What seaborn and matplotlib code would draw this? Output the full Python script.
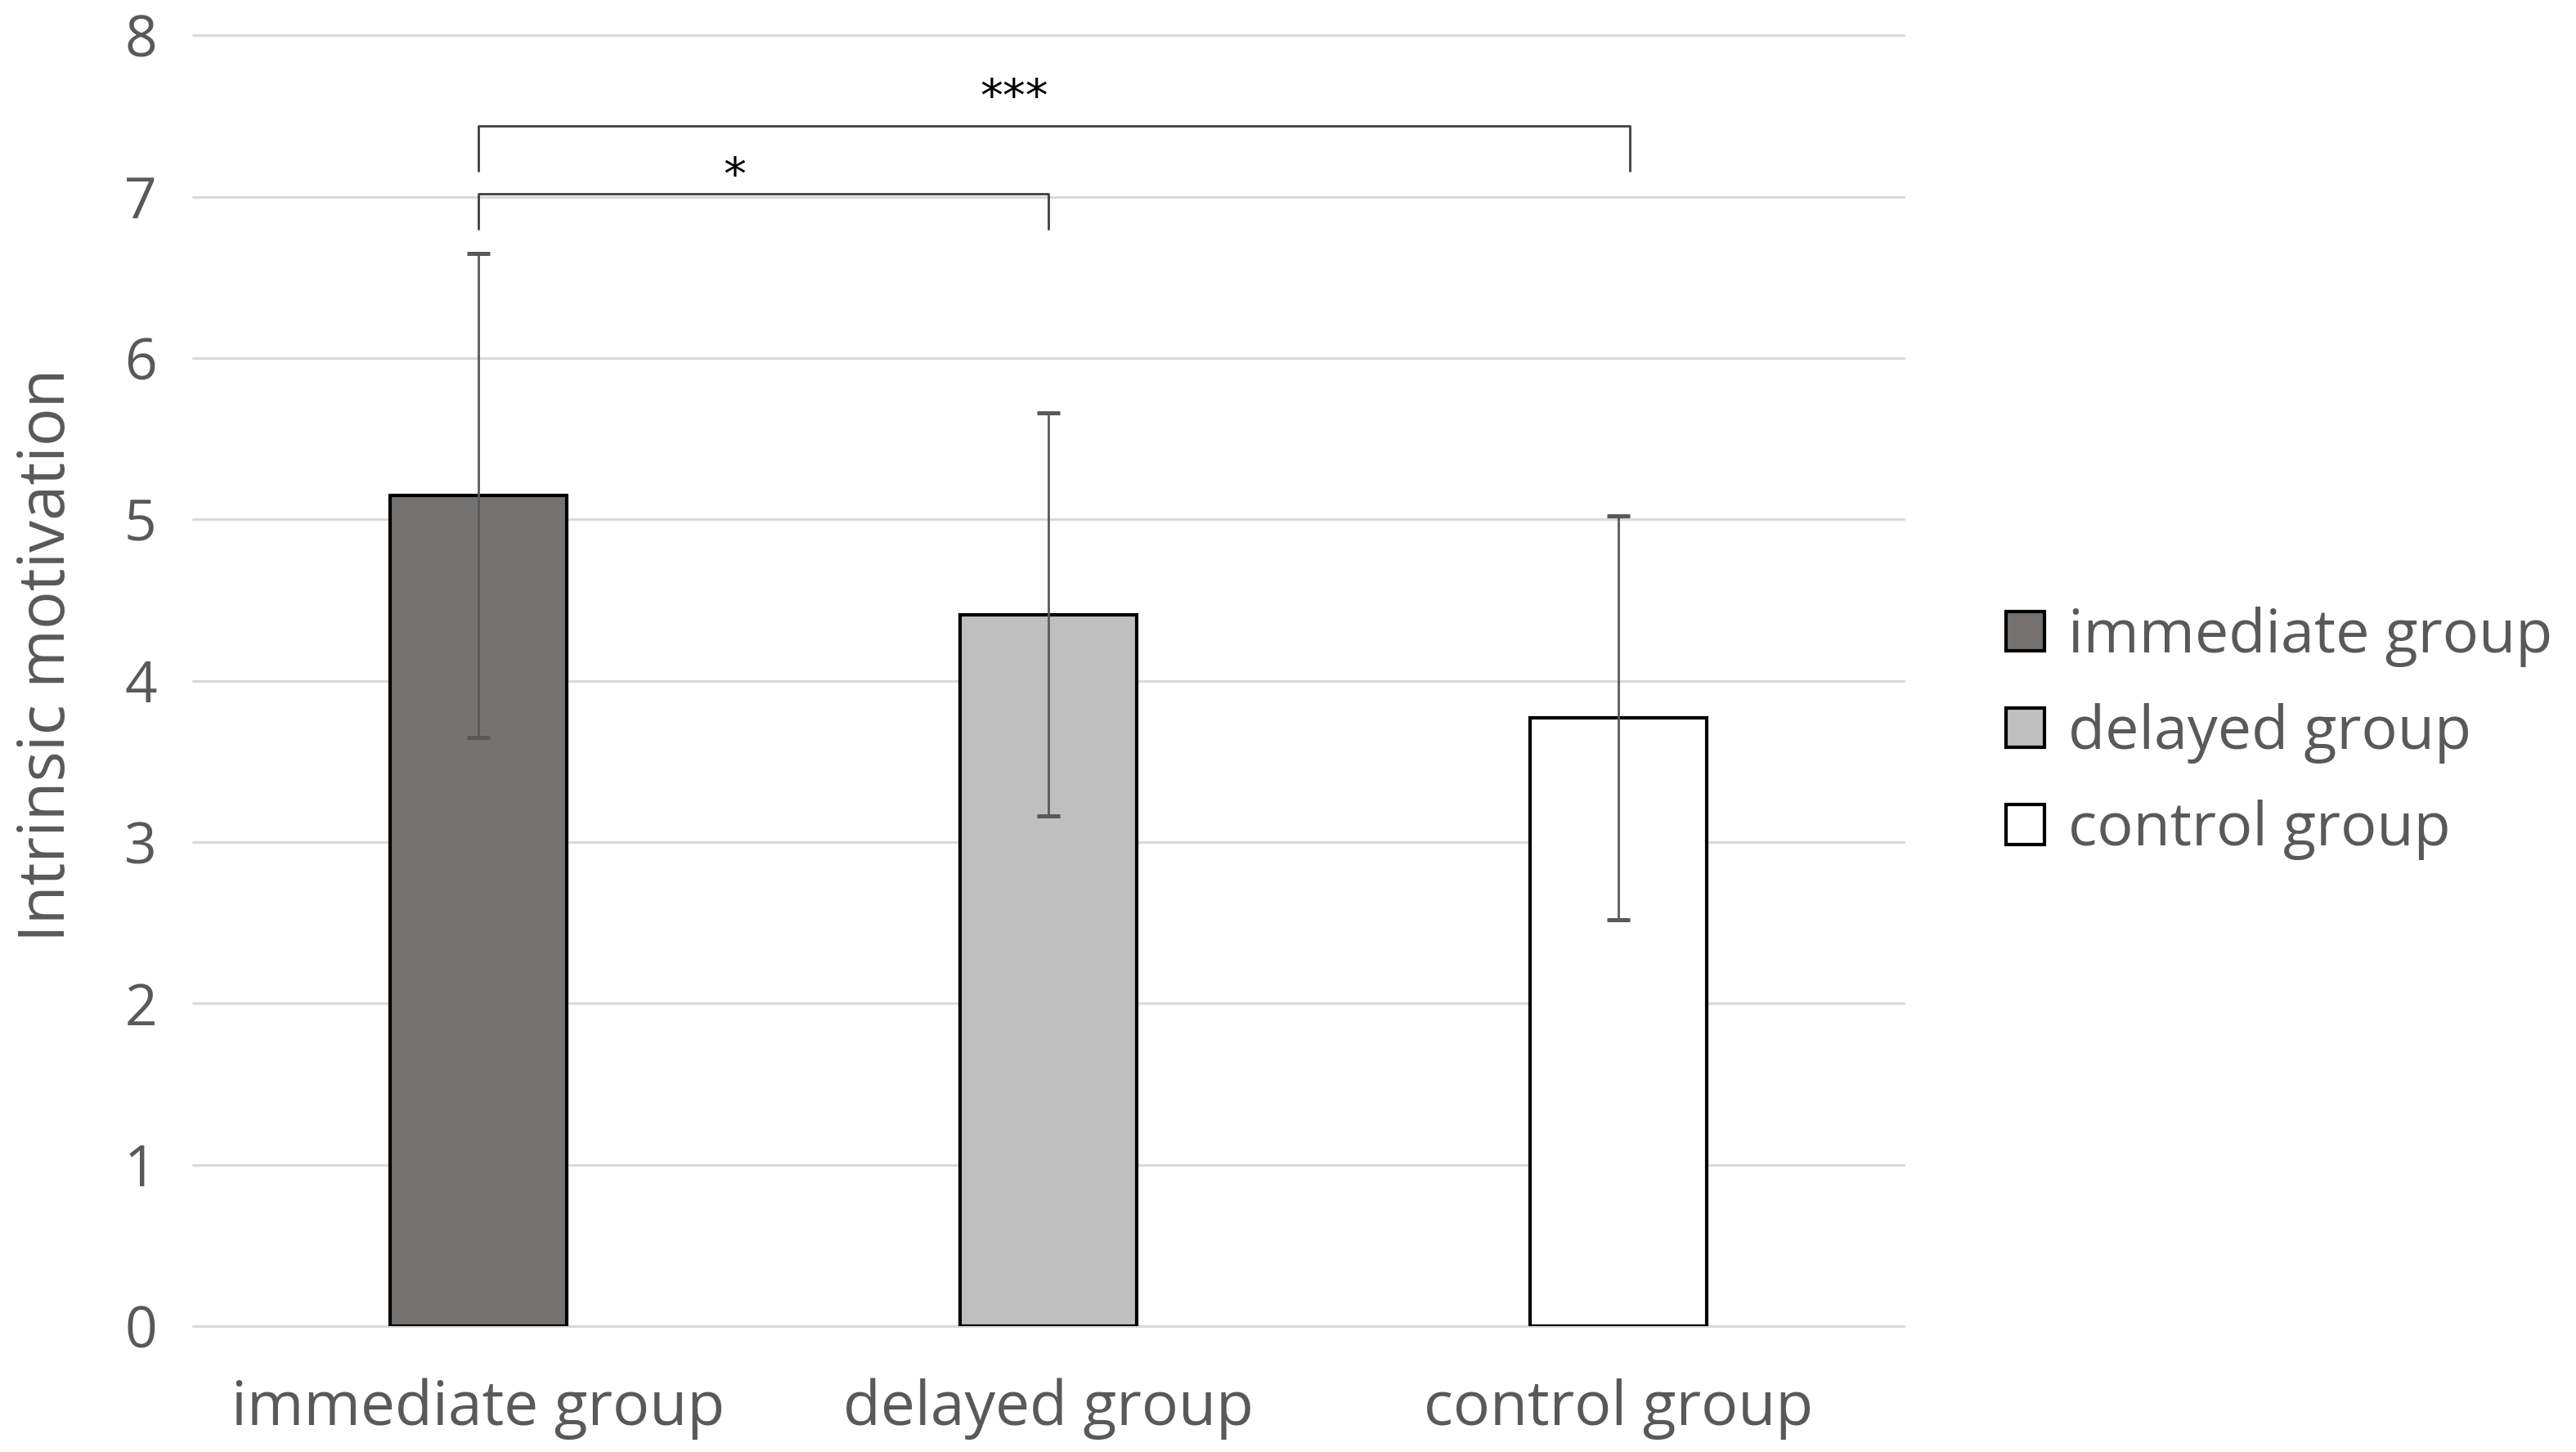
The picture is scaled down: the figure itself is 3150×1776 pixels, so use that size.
import pandas as pd
import seaborn as sns
import matplotlib.pyplot as plt
from matplotlib.patches import Patch

# values
groups = ["immediate group", "delayed group", "control group"]
means = [5.15, 4.41, 3.77]
sds = [1.50, 1.25, 1.25]
fills = ["#767171", "#BFBFBF", "#FFFFFF"]

# significance brackets: left group, right group, bar height, leg drop, label
bracket_left = [0, 0]
bracket_right = [1, 2.02]
bracket_y = [7.02, 7.44]
bracket_drop = [0.22, 0.28]
bracket_text = ["*", "***"]
text_x = [0.45, 0.94]
text_y = [6.98, 7.47]

sns.set_style("white")
plt.rcParams['font.family'] = ['Open Sans', 'DejaVu Sans']
TXT = "#595959"

df = pd.DataFrame({"group": groups, "mean": means, "sd": sds})

fig = plt.figure(figsize=(15.75, 8.88), dpi=200)
ax = fig.add_axes([0.075, 0.0867, 0.664, 0.889])

sns.barplot(data=df, x="group", y="mean", hue="group", palette=fills,
            dodge=False, width=0.31, edgecolor="black", linewidth=1.5,
            legend=False, ax=ax, zorder=2)
ax.errorbar(x=range(len(groups)), y=df["mean"], yerr=df["sd"], fmt="none",
            ecolor=TXT, elinewidth=1.0, capsize=5, capthick=1.8, zorder=3)

for x0, x1, y, d, t, tx, ty in zip(bracket_left, bracket_right, bracket_y,
                                   bracket_drop, bracket_text, text_x, text_y):
    ax.plot([x0, x0, x1, x1], [y - d, y, y, y - d], color="#404040",
            linewidth=1.0, clip_on=False, zorder=3)
    ax.text(tx, ty, t, ha="center", va="bottom", fontsize=20,
            color="black", family="DejaVu Sans")

ax.set_ylim(0, 8)
ax.set_xlim(-0.5, 2.5)
ax.set_yticks(range(0, 9))
ax.yaxis.grid(True, color="#D9D9D9", linewidth=1.1, clip_on=False)
ax.set_axisbelow(True)
sns.despine(ax=ax, left=True, bottom=True)
ax.tick_params(axis="both", length=0, labelsize=27, labelcolor=TXT)
ax.tick_params(axis="y", labelsize=25, pad=16)
ax.tick_params(axis="x", pad=23)
ax.set_xlabel("")
ax.set_ylabel("Intrinsic motivation", fontsize=28, color=TXT)
ax.yaxis.set_label_coords(-0.066, 0.52)

handles = [Patch(facecolor=c, edgecolor="black", linewidth=1.5) for c in fills]
fig.legend(handles, groups, loc="center left", bbox_to_anchor=(0.767, 0.495),
           frameon=False, fontsize=26.5, labelcolor=TXT, handlelength=0.64,
           handleheight=0.64, handletextpad=0.4, labelspacing=0.6,
           borderpad=0)

fig.savefig("out.png", dpi=200)
